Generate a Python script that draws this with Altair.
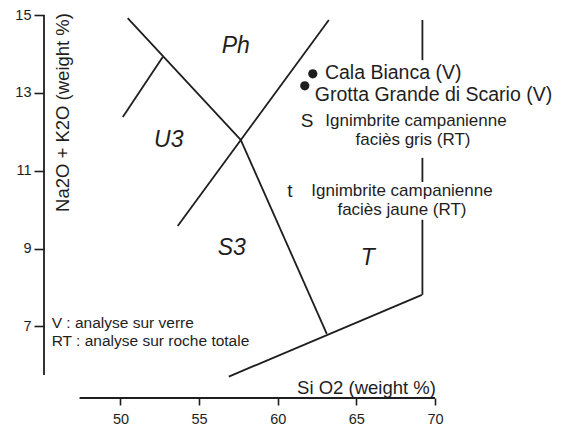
import altair as alt
import pandas as pd

# TAS field boundaries: segments (SiO2, Na2O+K2O)
seg_x1 = [50.46, 52.69, 57.65, 53.64, 56.89, 69.2, 69.2, 69.2]
seg_y1 = [14.92, 13.92, 11.79, 9.58, 5.71, 14.87, 11.33, 9.74]
seg_x2 = [57.65, 50.15, 63.12, 63.25, 69.17, 69.2, 69.2, 69.2]
seg_y2 = [11.79, 12.38, 6.81, 14.87, 7.81, 13.84, 10.71, 7.81]

# samples (glass analyses)
sample_names = ["Cala Bianca (V)", "Grotta Grande di Scario (V)"]
sample_sio2 = [62.23, 61.72]
sample_alk = [13.49, 13.18]

# field names
field_names = ["Ph", "U3", "S3", "T"]
field_sio2 = [57.33, 53.07, 57.08, 65.73]
field_alk = [14.2, 11.79, 9.02, 8.76]

# left-aligned annotations
left_text = ["Cala Bianca (V)", "Grotta Grande di Scario (V)",
             "V : analyse sur verre", "RT : analyse sur roche totale"]
left_x = [63.0, 62.36, 45.63, 45.63]
left_y = [13.51, 12.95, 7.09, 6.63]
left_size = [19.5, 19.5, 15.5, 15.5]

# centred annotations
center_text = ["S", "Ignimbrite campanienne", "faciès gris (RT)",
               "t", "Ignimbrite campanienne", "faciès jaune (RT)"]
center_x = [61.87, 68.79, 68.6, 60.78, 67.9, 67.9]
center_y = [12.27, 12.27, 11.78, 10.49, 10.47, 9.98]
center_size = [19, 17, 17, 19, 17, 17]

x_ticks = [50, 55, 60, 65, 70]
y_ticks = [7, 9, 11, 13, 15]
x_domain = [45.14, 70]
y_domain = [5.16, 15]

# axis lines (drawn detached, as in the original figure)
axis_x1 = [47.4, 45.14]
axis_y1 = [5.16, 5.75]
axis_x2 = [70.0, 45.14]
axis_y2 = [5.16, 15.0]

INK = "#1e1e1e"
FONT = "Liberation Sans"

xs = alt.Scale(domain=x_domain, nice=False, zero=False)
ys = alt.Scale(domain=y_domain, nice=False, zero=False)

xaxis = alt.Axis(values=x_ticks, domain=False, grid=False, tickSize=7, tickWidth=1.6,
                 tickColor=INK, labelFontSize=14.5, labelColor=INK, labelFont=FONT,
                 labelPadding=7, labelFlush=False, title="Si O2 (weight %)",
                 titleFont=FONT, titleFontSize=18.5, titleFontWeight="normal",
                 titleColor=INK, titleX=322, titleY=-11, titleAlign="center",
                 titleBaseline="middle", titleAngle=0)
yaxis = alt.Axis(values=y_ticks, domain=False, grid=False, tickSize=10, tickWidth=1.6,
                 tickColor=INK, labelFontSize=14.5, labelColor=INK, labelFont=FONT,
                 labelPadding=3, labelFlush=False, title="Na2O + K2O (weight %)",
                 titleFont=FONT, titleFontSize=18.5, titleFontWeight="normal",
                 titleColor=INK, titleX=18, titleY=97, titleAngle=-90,
                 titleAlign="center", titleBaseline="middle")

X = alt.X("x:Q", scale=xs, axis=xaxis)
Y = alt.Y("y:Q", scale=ys, axis=yaxis)

seg_df = pd.DataFrame({"x": seg_x1, "y": seg_y1, "x2": seg_x2, "y2": seg_y2})
axis_df = pd.DataFrame({"x": axis_x1, "y": axis_y1, "x2": axis_x2, "y2": axis_y2})
samp_df = pd.DataFrame({"name": sample_names, "x": sample_sio2, "y": sample_alk})
field_df = pd.DataFrame({"name": field_names, "x": field_sio2, "y": field_alk})
left_df = pd.DataFrame({"t": left_text, "x": left_x, "y": left_y, "s": left_size})
center_df = pd.DataFrame({"t": center_text, "x": center_x, "y": center_y, "s": center_size})

axes_lines = alt.Chart(axis_df).mark_rule(color=INK, strokeWidth=1.8).encode(
    x=X, y=Y, x2="x2:Q", y2="y2:Q")
segments = alt.Chart(seg_df).mark_rule(color=INK, strokeWidth=1.8).encode(
    x=X, y=Y, x2="x2:Q", y2="y2:Q")
dots = alt.Chart(samp_df).mark_circle(color=INK, opacity=1, size=85).encode(x=X, y=Y)
fields = alt.Chart(field_df).mark_text(font=FONT, fontSize=23, fontStyle="italic",
                                       color=INK, align="center", baseline="middle").encode(
    x=X, y=Y, text="name:N")
left_txt = alt.Chart(left_df).mark_text(font=FONT, color=INK, align="left",
                                        baseline="middle").encode(
    x=X, y=Y, text="t:N", size=alt.Size("s:Q", scale=None, legend=None))
center_txt = alt.Chart(center_df).mark_text(font=FONT, color=INK, align="center",
                                            baseline="middle").encode(
    x=X, y=Y, text="t:N", size=alt.Size("s:Q", scale=None, legend=None))

chart = alt.layer(axes_lines, segments, dots, fields, left_txt, center_txt).properties(
    width=391, height=383,
    autosize=alt.AutoSizeParams(type="none"),
    padding={"left": 36, "top": 7, "right": 130, "bottom": 30},
    background="white",
).configure_view(strokeWidth=0)

chart.save("out.html", embed_options={"renderer": "svg", "actions": False})
